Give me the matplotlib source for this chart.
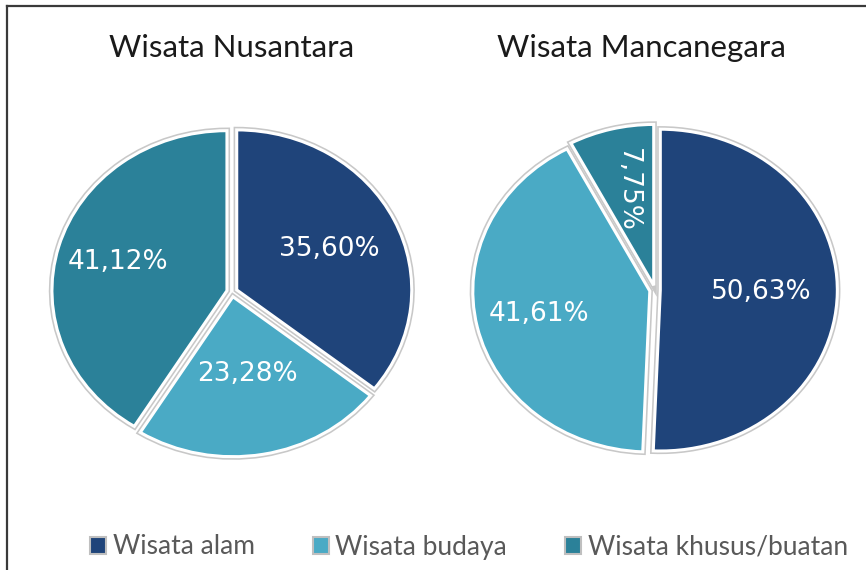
import numpy as np
import matplotlib.pyplot as plt
from matplotlib.lines import Line2D

categories = ['Wisata alam', 'Wisata budaya', 'Wisata khusus/buatan']
colors = ['#1f447a', '#4aaac5', '#2b8199']
titles = ['Wisata Nusantara', 'Wisata Mancanegara']
nusantara = [35.60, 23.28, 41.12]
mancanegara = [50.63, 41.61, 7.75]
label_dist = [[0.62, 0.52, 0.68], [0.60, 0.67, 0.64]]
label_rot = [[0, 0, 0], [0, 0, -90]]

fig = plt.figure(figsize=(8.66, 5.70), dpi=100)

# frame lines (top and left only visible)
fig.add_artist(Line2D([7.5/866, 7.5/866], [0, 1 - 5.5/570], transform=fig.transFigure,
                      color='#3a3a3a', lw=1.6))
fig.add_artist(Line2D([7.5/866, 1], [1 - 5.5/570, 1 - 5.5/570], transform=fig.transFigure,
                      color='#3a3a3a', lw=1.6))

axes_pos = [[0.0456, 0.179, 0.4446, 0.6175], [0.5315, 0.1807, 0.4497, 0.621]]

for k, vals in enumerate([nusantara, mancanegara]):
    ax = fig.add_axes(axes_pos[k])
    ex = [0.03] * 3
    # grey outline underneath, white gap on top
    ax.pie(vals, colors=colors, startangle=90, counterclock=False, explode=ex,
           wedgeprops=dict(edgecolor='#c8c8c8', linewidth=4.5))
    wedges, _ = ax.pie(vals, colors=colors, startangle=90, counterclock=False, explode=ex,
                       wedgeprops=dict(edgecolor='white', linewidth=2.2))
    for i, w in enumerate(wedges):
        mid = np.deg2rad((w.theta1 + w.theta2) / 2)
        d = label_dist[k][i]
        txt = f'{vals[i]:.2f}%'.replace('.', ',')
        ax.text(d * np.cos(mid), d * np.sin(mid), txt, color='white', fontsize=19,
                ha='center', va='center', rotation=label_rot[k][i],
                family=['DejaVu Sans'])
    ax.set_xlim(-1.1, 1.1)
    ax.set_ylim(-1.1, 1.1)
    ax.set_aspect('auto')
    ax.axis('off')

fig.text(232/866, 1 - 48/570, titles[0], fontsize=22.5, ha='center', va='center',
         family=['Lato', 'DejaVu Sans'], color='#1a1a1a')
fig.text(641/866, 1 - 48/570, titles[1], fontsize=22.5, ha='center', va='center',
         family=['Lato', 'DejaVu Sans'], color='#1a1a1a')

handles = [plt.Rectangle((0, 0), 1, 1, facecolor=c, edgecolor='#bfbfbf', lw=1.5) for c in colors]
fig.legend(handles, categories, loc='center', bbox_to_anchor=(469/866, 1 - 547/570), ncol=3,
           frameon=False, labelcolor='#595959', handlelength=0.6, handleheight=0.6,
           handletextpad=0.25, columnspacing=2.2,
           prop={'family': ['Lato', 'DejaVu Sans'], 'size': 19})

fig.savefig('out.png', dpi=100)
